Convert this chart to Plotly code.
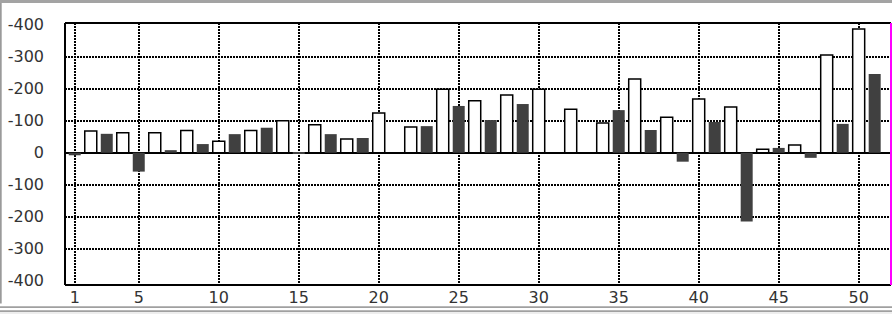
import plotly.graph_objects as go

# categories
x_white = list(range(2, 51, 2))
x_dark = list(range(1, 52, 2))

# series values
white_vals = [68, 62, 62, 69, 36, 69, 100, 87, 43, 124, 80, 198, 162,
              180, 198, 136, 93, 230, 111, 168, 143, 11, 24, 305, 386]
dark_vals = [-8, 59, -59, 8, 27, 58, 78, -1, 58, 46, 0, 83, 146, 102, 152,
             0, 0, 133, 71, -28, 96, -215, 15, -16, 90, 246]

# tick labels
x_ticks = [1, 5, 10, 15, 20, 25, 30, 35, 40, 45, 50]
y_ticks = [-400, -300, -200, -100, 0, 100, 200, 300, 400]
y_ticktext = ["-400", "-300", "-200", "-100", "0", "-100", "-200", "-300", "-400"]
y_grid = [-300, -200, -100, 100, 200, 300]

fig = go.Figure()
fig.add_trace(go.Bar(x=x_white, y=white_vals, width=0.75,
                     marker=dict(color="white", line=dict(color="black", width=1.5)),
                     showlegend=False))
fig.add_trace(go.Bar(x=x_dark, y=dark_vals, width=0.75,
                     marker=dict(color="#404040", line=dict(width=0)),
                     showlegend=False))

dotdash = "1.5px,1.5px"
fig.update_layout(
    width=892, height=314,
    margin=dict(l=65, r=1, t=23, b=29),
    paper_bgcolor="white", plot_bgcolor="white",
    barmode="overlay",
    font=dict(family="DejaVu Sans", size=16, color="#333"),
    xaxis=dict(range=[0.39, 52.02], tickmode="array", tickvals=x_ticks,
               showgrid=True, gridcolor="black", gridwidth=1.5, griddash=dotdash,
               zeroline=False, showline=False, ticks="", ticklabelstandoff=1,
               fixedrange=True),
    yaxis=dict(range=[-413, 405], tickmode="array", tickvals=y_ticks,
               ticktext=y_ticktext, showgrid=False,
               minor=dict(tickmode="array", tickvals=y_grid, showgrid=True,
                          gridcolor="black", gridwidth=1.5, griddash=dotdash, ticks=""),
               zeroline=True, zerolinecolor="black", zerolinewidth=2,
               showline=False, ticks="", ticklabelstandoff=20, fixedrange=True),
)

# frame decoration
W, H = 826.0, 262.0
def px(xp):
    return (xp - 65) / W
def py(yp):
    return 1 - (yp - 23) / H

shapes = [
    # plot border
    dict(type="line", xref="paper", yref="paper", x0=0, x1=1, y0=1, y1=1,
         line=dict(color="black", width=2)),
    dict(type="line", xref="paper", yref="paper", x0=0, x1=1, y0=0, y1=0,
         line=dict(color="black", width=2)),
    dict(type="line", xref="paper", yref="paper", x0=0, x1=0, y0=0, y1=1,
         line=dict(color="black", width=2)),
    dict(type="line", xref="paper", yref="paper", x0=1, x1=1, y0=0, y1=1,
         line=dict(color="#ff00ff", width=2)),
    # outer grey frame
    dict(type="rect", xref="paper", yref="paper", x0=px(0), x1=px(892),
         y0=py(3), y1=py(0), fillcolor="#a3a3a3", line=dict(width=0)),
    dict(type="rect", xref="paper", yref="paper", x0=px(0), x1=px(1.7),
         y0=py(303.5), y1=py(3), fillcolor="#9a9a9a", line=dict(width=0)),
    dict(type="rect", xref="paper", yref="paper", x0=px(0), x1=px(892),
         y0=py(308), y1=py(306.3), fillcolor="#a0a0a0", line=dict(width=0)),
    dict(type="rect", xref="paper", yref="paper", x0=px(0), x1=px(892),
         y0=py(312), y1=py(310.3), fillcolor="#a0a0a0", line=dict(width=0)),
    dict(type="rect", xref="paper", yref="paper", x0=px(0), x1=px(892),
         y0=py(314), y1=py(312), fillcolor="#eeeeee", line=dict(width=0)),
]
fig.update_layout(shapes=shapes)

fig.write_html("out.html")
